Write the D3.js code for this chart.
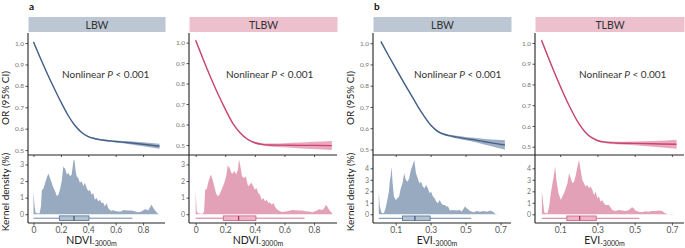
<!DOCTYPE html>
<html><head><meta charset="utf-8">
<script src="https://cdn.jsdelivr.net/npm/d3@7"></script>
<style>body{margin:0;background:#fff}svg{display:block}text{font-family:Lato,"Open Sans",sans-serif}</style>
</head><body><svg id="c" width="685" height="248"></svg>
<script>
// ---------- DATA ----------
const outcomes = ["LBW", "TLBW"];
const exposures = ["NDVI", "EVI"];
const panelLetters = ["a", "b"];
const pText = "Nonlinear";

const orTicks = [0.5, 0.6, 0.7, 0.8, 0.9, 1.0];
const densTicksNdvi = [0, 1, 2, 3];
const densTicksEvi = [0, 1, 2, 3, 4];
const xTicksNdvi = [0, 0.2, 0.4, 0.6, 0.8];
const xTicksEvi = [0.1, 0.3, 0.5, 0.7];

// OR curves (x, OR, lower, upper)
const ndviLbwX  = [0,0.05,0.1,0.15,0.2,0.25,0.3,0.35,0.4,0.45,0.5,0.6,0.7,0.8,0.92];
const ndviLbwOR = [1.005,0.93,0.858,0.79,0.725,0.665,0.617,0.583,0.563,0.553,0.547,0.54,0.534,0.527,0.518];
const ndviLbwLo = [0.999,0.925,0.854,0.786,0.722,0.662,0.614,0.58,0.56,0.549,0.543,0.535,0.527,0.518,0.506];
const ndviLbwHi = [1.011,0.935,0.862,0.794,0.728,0.668,0.62,0.586,0.566,0.557,0.551,0.545,0.541,0.536,0.53];

const ndviTlbwX  = [0,0.05,0.1,0.15,0.2,0.25,0.3,0.35,0.4,0.45,0.5,0.6,0.7,0.8,0.92];
const ndviTlbwOR = [1.012,0.92,0.832,0.75,0.675,0.607,0.56,0.528,0.511,0.503,0.5,0.499,0.498,0.498,0.497];
const ndviTlbwLo = [1.005,0.914,0.827,0.746,0.671,0.603,0.556,0.524,0.506,0.497,0.493,0.489,0.484,0.48,0.475];
const ndviTlbwHi = [1.019,0.926,0.837,0.754,0.679,0.611,0.564,0.532,0.516,0.509,0.507,0.509,0.512,0.516,0.52];

const eviLbwX  = [0.015,0.05,0.1,0.15,0.2,0.25,0.3,0.35,0.4,0.45,0.5,0.55,0.6,0.65,0.7,0.725];
const eviLbwOR = [1.008,0.955,0.882,0.81,0.74,0.672,0.615,0.58,0.566,0.558,0.551,0.545,0.538,0.531,0.524,0.521];
const eviLbwLo = [1.002,0.95,0.878,0.806,0.737,0.669,0.612,0.576,0.561,0.552,0.543,0.535,0.525,0.515,0.504,0.499];
const eviLbwHi = [1.014,0.96,0.886,0.814,0.743,0.675,0.618,0.584,0.571,0.564,0.559,0.555,0.551,0.547,0.544,0.543];

const eviTlbwX  = [0,0.05,0.1,0.15,0.2,0.25,0.3,0.35,0.4,0.5,0.6,0.725];
const eviTlbwOR = [1.013,0.9,0.793,0.695,0.612,0.556,0.53,0.521,0.518,0.516,0.514,0.512];
const eviTlbwLo = [1.006,0.894,0.788,0.691,0.608,0.552,0.526,0.516,0.512,0.507,0.5,0.49];
const eviTlbwHi = [1.02,0.906,0.798,0.699,0.616,0.56,0.534,0.526,0.524,0.525,0.528,0.534];

// Kernel density (%) [x, density]
const densNdviLbw = [[0,1.38],[0.008,0.5],[0.015,0.1],[0.03,0.05],[0.045,0.06],[0.055,0.5],[0.061,1.45],[0.073,1.55],[0.085,1.9],[0.097,2.2],[0.109,2.45],[0.12,2.2],[0.133,1.89],[0.145,1.6],[0.158,1.38],[0.17,1.1],[0.182,1.18],[0.194,1.5],[0.206,1.99],[0.218,2.9],[0.224,2.75],[0.23,2.8],[0.242,2.39],[0.255,2.49],[0.267,2.29],[0.279,2.4],[0.291,3.2],[0.298,3.31],[0.308,2.6],[0.315,2.29],[0.327,2.19],[0.339,1.89],[0.352,1.99],[0.364,1.68],[0.376,1.89],[0.388,1.58],[0.4,1.38],[0.412,1.48],[0.424,1.18],[0.436,1.28],[0.448,0.87],[0.461,0.97],[0.473,0.77],[0.485,0.87],[0.497,0.67],[0.509,0.71],[0.521,0.47],[0.533,0.67],[0.545,0.37],[0.558,0.26],[0.57,0.2],[0.582,0.26],[0.594,0.2],[0.618,0.16],[0.642,0.16],[0.655,0.26],[0.667,0.24],[0.691,0.22],[0.715,0.22],[0.739,0.18],[0.764,0.12],[0.788,0.16],[0.812,0.3],[0.824,0.28],[0.836,0.22],[0.848,0.37],[0.861,0.57],[0.873,0.41],[0.885,0.26],[0.905,0.06],[0.915,0]];
const densNdviTlbw = [[0,1.38],[0.007,0.16],[0.016,0.06],[0.046,0.02],[0.057,0.16],[0.064,1.48],[0.075,1.52],[0.087,1.99],[0.103,2.39],[0.114,2.09],[0.126,1.68],[0.137,1.28],[0.149,1.08],[0.16,1.18],[0.171,1.38],[0.194,1.89],[0.206,2.29],[0.217,2.94],[0.229,2.8],[0.24,2.5],[0.251,2.45],[0.263,2.6],[0.274,2.39],[0.286,2.7],[0.293,3.31],[0.302,2.9],[0.313,2.29],[0.327,2.19],[0.338,2.29],[0.354,1.68],[0.366,1.79],[0.377,1.89],[0.389,1.68],[0.4,1.48],[0.411,1.58],[0.423,1.28],[0.434,1.18],[0.446,0.87],[0.457,0.97],[0.469,0.77],[0.48,0.87],[0.491,0.67],[0.503,0.71],[0.514,0.57],[0.526,0.67],[0.537,0.43],[0.549,0.3],[0.56,0.22],[0.583,0.14],[0.606,0.16],[0.629,0.2],[0.651,0.26],[0.674,0.24],[0.697,0.22],[0.72,0.22],[0.743,0.18],[0.766,0.16],[0.789,0.12],[0.811,0.2],[0.834,0.3],[0.857,0.26],[0.869,0.37],[0.88,0.57],[0.891,0.43],[0.903,0.26],[0.921,0.06],[0.925,0]];
const densEviLbw = [[0.003,1.97],[0.009,0.67],[0.019,0.14],[0.032,0.09],[0.042,0.52],[0.052,1.25],[0.061,1.97],[0.066,2.84],[0.071,3.28],[0.077,4.14],[0.081,3.0],[0.085,2.26],[0.09,1.54],[0.1,1.25],[0.11,1.39],[0.119,1.54],[0.129,2.26],[0.139,2.7],[0.148,3.57],[0.158,2.99],[0.168,2.84],[0.177,3.13],[0.187,3.86],[0.197,4.29],[0.206,4.72],[0.216,3.57],[0.226,3.13],[0.235,2.7],[0.245,2.84],[0.255,2.41],[0.265,2.26],[0.274,2.55],[0.284,2.26],[0.294,1.83],[0.303,1.97],[0.313,1.54],[0.323,1.39],[0.332,1.1],[0.342,0.96],[0.352,1.25],[0.361,0.96],[0.371,0.81],[0.381,0.81],[0.39,0.67],[0.4,0.67],[0.41,0.32],[0.429,0.38],[0.448,0.32],[0.468,0.38],[0.477,0.23],[0.497,0.67],[0.506,0.52],[0.526,0.29],[0.545,0.17],[0.564,0.29],[0.584,0.23],[0.603,0.29],[0.623,0.23],[0.642,0.32],[0.661,0.17],[0.671,0.03],[0.69,0.01],[0.719,0]];
const densEviTlbw = [[0.002,1.97],[0.015,0.14],[0.032,0.09],[0.041,0.67],[0.05,1.83],[0.059,2.7],[0.068,3.57],[0.073,4.2],[0.08,2.99],[0.091,1.83],[0.104,1.25],[0.112,1.54],[0.121,1.83],[0.13,2.26],[0.139,2.7],[0.148,3.57],[0.157,3.13],[0.166,2.7],[0.175,2.84],[0.184,3.42],[0.193,4.14],[0.201,4.72],[0.21,3.86],[0.219,2.99],[0.228,2.7],[0.237,2.41],[0.246,2.55],[0.255,2.26],[0.264,2.41],[0.273,2.12],[0.282,1.68],[0.291,1.97],[0.299,1.39],[0.308,1.54],[0.317,1.1],[0.326,1.25],[0.335,0.96],[0.344,0.81],[0.362,0.81],[0.38,0.38],[0.397,0.29],[0.415,0.38],[0.433,0.32],[0.451,0.29],[0.469,0.38],[0.486,0.61],[0.495,0.52],[0.504,0.32],[0.522,0.23],[0.54,0.17],[0.558,0.26],[0.575,0.23],[0.593,0.29],[0.611,0.29],[0.629,0.32],[0.647,0.29],[0.664,0.09],[0.682,0.01],[0.7,0.03],[0.718,0]];

// Box plots [min, q1, median, q3, max]
const boxNdviLbw  = [0, 0.189, 0.296, 0.405, 0.722];
const boxNdviTlbw = [0, 0.187, 0.29, 0.407, 0.736];
const boxEviLbw   = [0.003, 0.139, 0.21, 0.297, 0.532];
const boxEviTlbw  = [0.002, 0.136, 0.205, 0.294, 0.525];

// ---------- STYLE / LAYOUT ----------
const pal = {
  LBW:  {line:"#44628a", band:"#8ea1b9", dens:"#98aabf", strip:"#bcc7d3", boxFill:"#b4c1d0", boxStroke:"#5f7c9e", med:"#3d5b82", whisk:"#6d88a8"},
  TLBW: {line:"#c8476f", band:"#e898b2", dens:"#e3a1b7", strip:"#edc0ce", boxFill:"#efb5c7", boxStroke:"#d06a8e", med:"#b9325f", whisk:"#d7799a"}
};
const stripTop = 17, stripBot = 33, upBot = 155, lowBot = 223;

const panels = [
  {exp:0, out:0, x0:28,  x1:165, xDom:[-0.04,0.96], yDom:[0.477,1.047], dDom:[-0.53,3.57], X:ndviLbwX, OR:ndviLbwOR, LO:ndviLbwLo, HI:ndviLbwHi, dens:densNdviLbw, box:boxNdviLbw, boxY:-0.24, xt:xTicksNdvi, dt:densTicksNdvi, first:true, txt:34},
  {exp:0, out:1, x0:189, x1:337, xDom:[-0.045,0.955], yDom:[0.451,1.047], dDom:[-0.53,3.57], X:ndviTlbwX, OR:ndviTlbwOR, LO:ndviTlbwLo, HI:ndviTlbwHi, dens:densNdviTlbw, box:boxNdviTlbw, boxY:-0.24, xt:xTicksNdvi, dt:densTicksNdvi, first:false, txt:37},
  {exp:1, out:0, x0:373, x1:511, xDom:[-0.03,0.76], yDom:[0.474,1.048], dDom:[-0.76,5.16], X:eviLbwX, OR:eviLbwOR, LO:eviLbwLo, HI:eviLbwHi, dens:densEviLbw, box:boxEviLbw, boxY:-0.35, xt:xTicksEvi, dt:densTicksEvi, first:true, txt:41},
  {exp:1, out:1, x0:535, x1:684, xDom:[-0.035,0.765], yDom:[0.46,1.048], dDom:[-0.76,5.16], X:eviTlbwX, OR:eviTlbwOR, LO:eviTlbwLo, HI:eviTlbwHi, dens:densEviTlbw, box:boxEviTlbw, boxY:-0.35, xt:xTicksEvi, dt:densTicksEvi, first:false, txt:44}
];

const svg = d3.select("#c");
const axisCol = "#222";

panels.forEach(p => {
  const name = outcomes[p.out];
  const c = pal[name];
  const g = svg.append("g");
  const x = d3.scaleLinear().domain(p.xDom).range([p.x0, p.x1]);
  const yU = d3.scaleLinear().domain(p.yDom).range([upBot, stripBot]);
  const yL = d3.scaleLinear().domain(p.dDom).range([lowBot, upBot]);

  // strip
  g.append("rect").attr("x", p.x0 + 0.5).attr("y", stripTop).attr("width", p.x1 - p.x0).attr("height", stripBot - stripTop - 1).attr("fill", c.strip);
  g.append("text").attr("x", (p.x0 + p.x1) / 2 + 0.5).attr("y", (stripTop + stripBot) / 2 + 3.5)
    .attr("text-anchor", "middle").attr("font-size", 10.5).attr("fill", "#333").text(name);

  // OR band + line
  const rows = p.X.map((v, i) => ({x: v, or: p.OR[i], lo: p.LO[i], hi: p.HI[i]}));
  g.append("path").datum(rows).attr("fill", c.band).attr("opacity", 0.85)
    .attr("d", d3.area().curve(d3.curveMonotoneX).x(d => x(d.x)).y0(d => yU(d.lo)).y1(d => yU(d.hi)));
  g.append("path").datum(rows).attr("fill", "none").attr("stroke", c.line).attr("stroke-width", 1.4)
    .attr("d", d3.line().curve(d3.curveMonotoneX).x(d => x(d.x)).y(d => yU(d.or)));

  // annotation
  const t = g.append("text").attr("x", p.x0 + p.txt).attr("y", 78).attr("font-size", 10).attr("fill", "#333");
  t.append("tspan").text(pText + " ");
  t.append("tspan").attr("font-style", "italic").text("P");
  t.append("tspan").text(" < 0.001");

  // density
  g.append("path").datum(p.dens).attr("fill", c.dens)
    .attr("d", d3.area().x(d => x(d[0])).y0(yL(0)).y1(d => yL(d[1])));

  // box plot
  const b = p.box, by = yL(p.boxY);
  g.append("line").attr("x1", x(b[0])).attr("x2", x(b[4])).attr("y1", by).attr("y2", by).attr("stroke", c.whisk).attr("stroke-width", 1);
  g.append("rect").attr("x", x(b[1])).attr("y", by - 2.3).attr("width", x(b[3]) - x(b[1])).attr("height", 4.6)
    .attr("fill", c.boxFill).attr("stroke", c.boxStroke).attr("stroke-width", 0.9);
  g.append("line").attr("x1", x(b[2])).attr("x2", x(b[2])).attr("y1", by - 2.3).attr("y2", by + 2.3).attr("stroke", c.med).attr("stroke-width", 1.3);

  // axes: upper left
  const aU = g.append("g").attr("transform", `translate(${p.x0},0)`)
    .call(d3.axisLeft(yU).tickValues(orTicks).tickFormat(d3.format(".1f")).tickSize(2.5).tickPadding(1.5));
  aU.select(".domain").remove();
  aU.selectAll("line").attr("stroke", "#555");
  aU.selectAll("text").attr("font-size", 6.5).attr("fill", "#777").attr("font-family", "Lato, sans-serif");

  // axes: lower left
  const aL = g.append("g").attr("transform", `translate(${p.x0},0)`)
    .call(d3.axisLeft(yL).tickValues(p.dt).tickFormat(d3.format("d")).tickSize(2.5).tickPadding(1.5));
  aL.select(".domain").remove();
  aL.selectAll("line").attr("stroke", "#555");
  aL.selectAll("text").attr("font-size", 7).attr("fill", "#777").attr("font-family", "Lato, sans-serif");

  // axes: bottom
  const aB = g.append("g").attr("transform", `translate(0,${lowBot})`)
    .call(d3.axisBottom(x).tickValues(p.xt).tickFormat(d => d === 0 ? "0" : d3.format(".1f")(d)).tickSize(2.5).tickPadding(1));
  aB.select(".domain").remove();
  aB.selectAll("line").attr("stroke", "#555");
  aB.selectAll("text").attr("font-size", 8.5).attr("fill", "#555").attr("font-family", "Lato, sans-serif");

  // ticks under upper panel
  const aM = g.append("g").attr("transform", `translate(0,${upBot})`)
    .call(d3.axisBottom(x).tickValues(p.xt).tickFormat("").tickSize(2));
  aM.select(".domain").remove();
  aM.selectAll("line").attr("stroke", "#555");

  // axis lines
  g.append("line").attr("x1", p.x0).attr("x2", p.x0).attr("y1", stripBot).attr("y2", lowBot).attr("stroke", axisCol).attr("stroke-width", 1.1);
  g.append("line").attr("x1", p.x0).attr("x2", p.x1).attr("y1", lowBot).attr("y2", lowBot).attr("stroke", axisCol).attr("stroke-width", 1.1);

  // x title
  const xt = g.append("text").attr("x", (p.x0 + p.x1) / 2 - 5).attr("y", 244).attr("text-anchor", "middle").attr("fill", "#222").attr("font-size", 10.5);
  xt.append("tspan").text(exposures[p.exp]);
  xt.append("tspan").attr("font-size", 7).attr("dy", 1.8).text("-3000m");

  if (p.first) {
    g.append("text").attr("transform", `translate(${p.x0 - 19},${(stripBot + upBot) / 2 + 4}) rotate(-90)`)
      .attr("text-anchor", "middle").attr("font-size", 10).attr("fill", "#222").text("OR (95% CI)");
    g.append("text").attr("transform", `translate(${p.x0 - 19},${(upBot + lowBot) / 2 + 3}) rotate(-90)`)
      .attr("text-anchor", "middle").attr("font-size", 10).attr("fill", "#222").text("Kernel density (%)");
    g.append("text").attr("x", p.x0 + 1).attr("y", 10).attr("font-size", 10).attr("font-weight", "bold").attr("fill", "#111").text(panelLetters[p.exp]);
  }
});

// horizontal separator spanning each pair
[[0, 1], [2, 3]].forEach(([a, b]) => {
  svg.append("line").attr("x1", panels[a].x0).attr("x2", panels[b].x1).attr("y1", upBot).attr("y2", upBot)
    .attr("stroke", axisCol).attr("stroke-width", 1.1);
});
</script></body></html>
